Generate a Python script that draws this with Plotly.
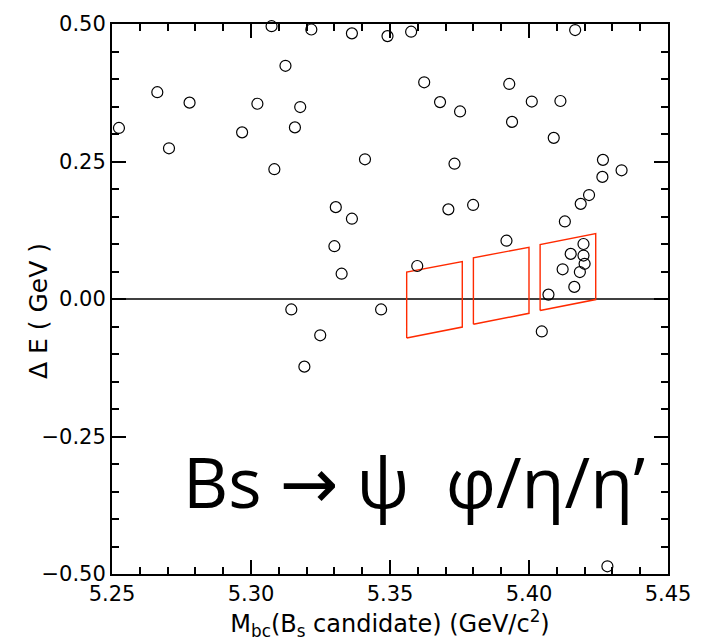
import plotly.graph_objects as go

# Candidate events: Mbc (GeV/c^2) and Delta E (GeV)
mbc = [5.2525, 5.2663, 5.2705, 5.2779, 5.2968, 5.3023, 5.3074, 5.3084, 5.3124, 5.3158,
       5.3177, 5.3217, 5.3363, 5.3410, 5.3491, 5.3576, 5.4166, 5.3623, 5.3680, 5.3752,
       5.3929, 5.4010, 5.4113, 5.3939, 5.4089, 5.3732, 5.4266, 5.4333, 5.4264, 5.4216,
       5.3305, 5.3363, 5.3300, 5.3326, 5.3710, 5.3799, 5.3919, 5.3598, 5.4186, 5.4129,
       5.4196, 5.4150, 5.4196, 5.4200, 5.4121, 5.4183, 5.4163, 5.4070, 5.4046, 5.3145,
       5.3468, 5.3249, 5.3192, 5.4282]
delta_e = [0.311, 0.376, 0.274, 0.357, 0.303, 0.355, 0.496, 0.236, 0.424, 0.312,
           0.349, 0.490, 0.483, 0.254, 0.478, 0.486, 0.489, 0.394, 0.358, 0.341,
           0.391, 0.359, 0.360, 0.322, 0.293, 0.246, 0.253, 0.234, 0.222, 0.189,
           0.167, 0.146, 0.096, 0.046, 0.163, 0.171, 0.106, 0.060, 0.173, 0.141,
           0.100, 0.082, 0.079, 0.064, 0.054, 0.049, 0.022, 0.008, -0.059, -0.019,
           -0.019, -0.066, -0.123, -0.486]

# Signal boxes (parallelograms): corners in (Mbc, dE)
box1_x = [5.356, 5.376, 5.376, 5.356, 5.356]
box1_y = [-0.071, -0.051, 0.068, 0.049, -0.071]
box2_x = [5.380, 5.400, 5.400, 5.380, 5.380]
box2_y = [-0.046, -0.026, 0.094, 0.075, -0.046]
box3_x = [5.404, 5.424, 5.424, 5.404, 5.404]
box3_y = [-0.021, -0.001, 0.119, 0.099, -0.021]

x_tickvals = [5.25, 5.30, 5.35, 5.40, 5.45]
x_ticktext = ["5.25", "5.30", "5.35", "5.40", "5.45"]
y_tickvals = [-0.5, -0.25, 0.0, 0.25, 0.5]
y_ticktext = ["\u22120.50", "\u22120.25", "0.00", "0.25", "0.50"]

fig = go.Figure()

fig.add_trace(go.Scatter(
    x=[5.25, 5.45], y=[0, 0], mode="lines",
    line=dict(color="black", width=1.3), hoverinfo="skip", showlegend=False))

bx = box1_x + [None] + box2_x + [None] + box3_x
by = box1_y + [None] + box2_y + [None] + box3_y
fig.add_trace(go.Scatter(
    x=bx, y=by, mode="lines",
    line=dict(color="#ff2a00", width=1.4), showlegend=False))

fig.add_trace(go.Scatter(
    x=mbc, y=delta_e, mode="markers",
    marker=dict(symbol="circle-open", size=11, color="black", line=dict(width=1.2)),
    showlegend=False, cliponaxis=False))

tick_font = dict(family="DejaVu Sans, sans-serif", size=21, color="black")
title_font = dict(family="DejaVu Sans, sans-serif", size=24, color="black")

fig.update_xaxes(
    range=[5.25, 5.45], tickvals=x_tickvals, ticktext=x_ticktext,
    ticks="inside", ticklen=14, tickwidth=1.5, tickcolor="black",
    minor=dict(dtick=0.01, ticks="inside", ticklen=7, tickwidth=1.5, tickcolor="black", showgrid=False),
    showline=True, linewidth=2, linecolor="black", mirror="ticks",
    showgrid=False, zeroline=False, tickfont=tick_font,
    title=dict(text="M<sub>bc</sub>(B<sub>s</sub> candidate) (GeV/c<sup>2</sup>)",
               font=title_font, standoff=2))

fig.update_yaxes(
    range=[-0.5, 0.5], tickvals=y_tickvals, ticktext=y_ticktext,
    ticks="inside", ticklen=14, tickwidth=1.5, tickcolor="black",
    minor=dict(dtick=0.05, ticks="inside", ticklen=7, tickwidth=1.5, tickcolor="black", showgrid=False),
    showline=True, linewidth=2, linecolor="black", mirror="ticks",
    showgrid=False, zeroline=False, tickfont=tick_font)

# Y-axis title as a rotated annotation placed close to the tick labels
fig.add_annotation(
    x=0, y=0.5, xref="paper", yref="paper", xanchor="center", yanchor="middle",
    xshift=-74, yshift=-12, textangle=-90,
    text="\u0394 E ( GeV )", showarrow=False,
    font=dict(family="DejaVu Sans, sans-serif", size=25, color="black"))

fig.add_annotation(
    x=5.4423, y=-0.33, xref="x", yref="y", xanchor="right", yanchor="middle",
    text="Bs \u2192 \u03c8  \u03c6/\u03b7/\u03b7\u2019", showarrow=False,
    font=dict(family="Open Sans, DejaVu Sans, sans-serif", size=70, color="black"))

fig.update_layout(
    width=703, height=641,
    margin=dict(l=112, r=32, t=16, b=67),
    plot_bgcolor="white", paper_bgcolor="white",
)

fig.write_html("out.html")
